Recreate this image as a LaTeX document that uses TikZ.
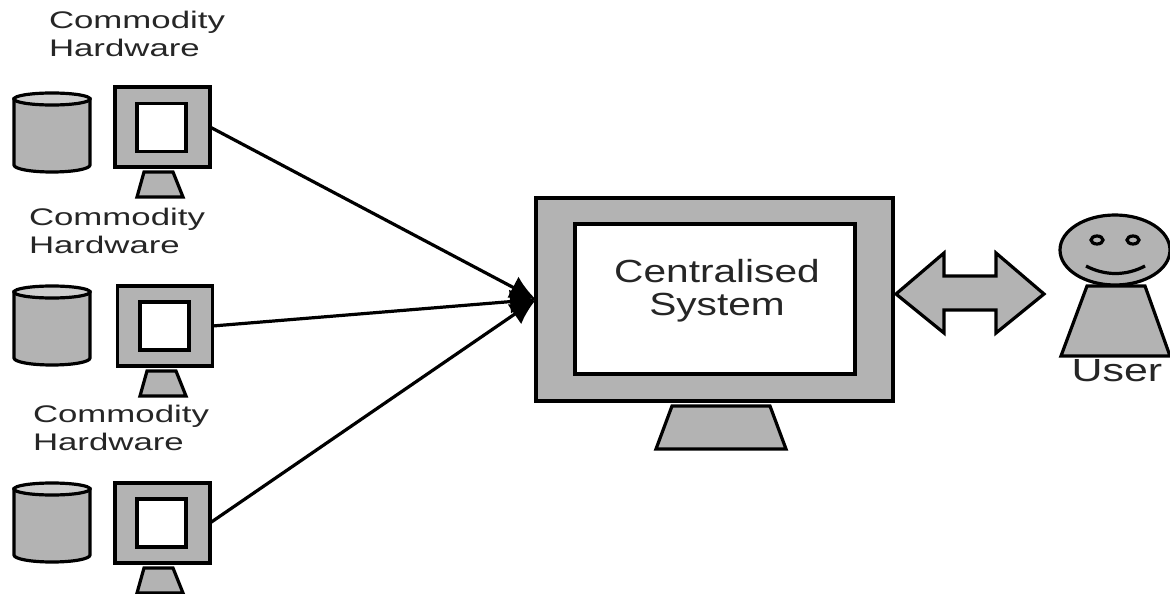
\documentclass[tikz,border=0pt]{standalone}
\usepackage{graphicx}
\usepackage{fontspec}
\setmainfont{Liberation Sans}
\usepackage{tikz}
\usetikzlibrary{arrows.meta}
\usetikzlibrary{shapes.geometric}
\definecolor{partgray}{HTML}{B3B3B3}
\newcommand{\wide}[2][1.27]{\scalebox{#1}[1]{\begin{tabular}{@{}c@{}}#2\end{tabular}}}
\newcommand{\wideleft}[1]{\scalebox{1.45}[1]{\begin{tabular}{@{}l@{}}#1\end{tabular}}}
\tikzset{
  part/.style={draw=black, line width=3.2pt, fill=partgray, inner sep=0pt, outer sep=0pt},
  screen/.style={draw=black, line width=3.2pt, fill=white, inner sep=0pt, outer sep=0pt},
  disktop/.style={part, shape=ellipse, fill=partgray!65, minimum width=76pt, minimum height=12pt},
  label/.style={inner sep=0pt, text=black!85},
  link/.style={line width=3.2pt, -{Latex[length=26pt,width=24pt]}}
}
\begin{document}
\begin{tikzpicture}[x=1pt,y=-1pt]
\useasboundingbox (0,0) rectangle (1170,594);

% first machine
\node [label, font=\fontsize{24}{28.5}\selectfont] (lab1) at (137,37) {\wideleft{Commodity\\Hardware}};
\draw [part] (14,99) -- (14,165) .. controls (14,169) and (31,172) .. (52,172) .. controls (73,172) and (90,169) .. (90,165) -- (90,99) -- cycle;
\node [disktop] (disk1) at (52,99) {};
\node [part, minimum width=95pt, minimum height=80pt] (mon1) at (162.5,127) {};
\node [screen, minimum width=49pt, minimum height=48pt] (scr1) at (161.5,127.5) {};
\draw [part] (144,172) -- (173,172) -- (183,197) -- (137,197) -- cycle;

% second machine
\node [label, font=\fontsize{24}{28.5}\selectfont] (lab2) at (117,234) {\wideleft{Commodity\\Hardware}};
\draw [part] (14,292) -- (14,358) .. controls (14,362) and (31,365) .. (52,365) .. controls (73,365) and (90,362) .. (90,358) -- (90,292) -- cycle;
\node [disktop] (disk2) at (52,292) {};
\node [part, minimum width=95pt, minimum height=80pt] (mon2) at (165,326) {};
\node [screen, minimum width=49pt, minimum height=48pt] (scr2) at (164.5,326) {};
\draw [part] (147,371) -- (176,371) -- (186,396) -- (140,396) -- cycle;

% third machine
\node [label, font=\fontsize{24}{28.5}\selectfont] (lab3) at (121,431) {\wideleft{Commodity\\Hardware}};
\draw [part] (14,489) -- (14,555) .. controls (14,559) and (31,562) .. (52,562) .. controls (73,562) and (90,559) .. (90,555) -- (90,489) -- cycle;
\node [disktop] (disk3) at (52,489) {};
\node [part, minimum width=95pt, minimum height=80pt] (mon3) at (162.5,523) {};
\node [screen, minimum width=49pt, minimum height=48pt] (scr3) at (161.5,523) {};
\draw [part] (144,568) -- (173,568) -- (183,593) -- (137,593) -- cycle;

% central machine
\node [part, minimum width=357pt, minimum height=203pt] (central) at (714.5,299.5) {};
\node [screen, minimum width=280pt, minimum height=150pt] (centralscr) at (715,299) {};
\draw [part] (672,406) -- (770,406) -- (786,449) -- (656,449) -- cycle;
\node [label, font=\fontsize{32}{33}\selectfont] (centrallab) at (717,292) {\wide{Centralised\\System}};

% user
\draw [part] (1087,286) -- (1145,286) -- (1170,356) -- (1061,356) -- cycle;
\node [part, shape=ellipse, minimum width=110pt, minimum height=70pt] (head) at (1115,250) {};
\node [part, shape=ellipse, minimum width=12pt, minimum height=8pt] (eyeL) at (1097,240) {};
\node [part, shape=ellipse, minimum width=12pt, minimum height=8pt] (eyeR) at (1133,240) {};
\coordinate (smileL) at (1086,266);
\coordinate (smileR) at (1145,266);
\draw [line width=3.2pt] (smileL) .. controls (1105,276) and (1126,276) .. (smileR);
\node [label, font=\fontsize{32}{36}\selectfont] (userlab) at (1117,374.5) {\wide[1.34]{User}};

% double arrow
\draw [part] (896,294) -- (944,253) -- (944,276) -- (996,276) -- (996,253) -- (1044,294) -- (996,333) -- (996,310) -- (944,310) -- (944,333) -- cycle;

% links
\draw [link] (mon1.east) -- (central.west);
\draw [link] (mon2.east) -- (central.west);
\draw [link] (mon3.east) -- (central.west);
\end{tikzpicture}
\end{document}
